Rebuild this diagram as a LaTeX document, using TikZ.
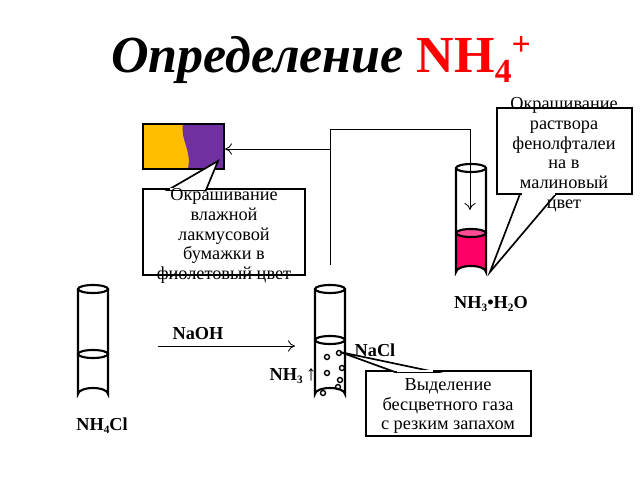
\documentclass[tikz,border=0pt]{standalone}
\usepackage{fontspec}
\setmainfont{Liberation Serif}
\usetikzlibrary{positioning,arrows.meta}
\definecolor{litY}{RGB}{255,190,0}
\definecolor{litV}{RGB}{112,48,160}
\definecolor{crimson}{RGB}{255,0,102}
\newcommand{\tube}[4]{% x, top y, liquid y, bottom y
  \draw[tube line] (#1,#2) -- (#1,#4-6) arc[start angle=180,end angle=360,x radius=15,y radius=6] -- (#1+30,#2);
  \draw[tube line] (#1+15,#2) ellipse[x radius=15,y radius=4];
  \draw[tube line] (#1+15,#3) ellipse[x radius=15,y radius=4];}
\newcommand{\sub}[1]{\raisebox{-0.35ex}{\fontsize{8}{8}\selectfont #1}}
\begin{document}
\begin{tikzpicture}[x=0.025cm,y=-0.025cm,thick,
    tube line/.style={line width=1.5pt},
    box/.style={draw,fill=white,line width=1.2pt},
    note/.style={align=center,font=\fontsize{13}{14}\selectfont,anchor=north,inner sep=0pt},
    label/.style={font=\bfseries\fontsize{13}{14}\selectfont},
    >={To[length=5pt,width=8pt]}]
  \useasboundingbox (0,0) rectangle (640,480);
  \node (title) at (321,60) {\fontsize{37}{40}\selectfont\bfseries\itshape Определение \textcolor{red}{\upshape NH\raisebox{-0.4ex}{\fontsize{24}{24}\selectfont 4}\raisebox{0.7ex}{\fontsize{24}{24}\selectfont +}}};

  % litmus strip
  \fill[litY] (143,124) rectangle (224,169);
  \fill[litV] (183,124) .. controls (180,140) and (192,150) .. (188,169) -- (224,169) -- (224,124) -- cycle;
  \draw[line width=1.2pt] (143,124) rectangle (224,169);

  % phenolphthalein tube
  \fill[crimson] (456,233) -- (456,272) arc[start angle=180,end angle=360,x radius=15,y radius=6] -- (486,233) -- cycle;
  \fill[crimson!70] (471,233) ellipse[x radius=15,y radius=4];
  \tube{456}{168}{233}{278}
  \node[label] (nh3h2o) at (491,304) {NH\sub{3}•H\sub{2}O};

  % left and middle tubes
  \tube{78}{289}{354}{400}
  \node[label] (nh4cl) at (102,426) {NH\sub{4}Cl};
  \tube{315}{289}{340}{400}
  \foreach \px/\py in {327/357,339/353,327/373,342/368,338/387,323/393,340/380}
    \draw[line width=1pt] (\px,\py) circle[radius=2.5];
  \node[label] (naoh) at (198,334) {NaOH};
  \node[label] (nacl) at (375,350) {NaCl};
  \node[label] (nh3) at (293,376) {NH\sub{3}\,{\fontsize{15}{15}\selectfont\textuparrow}};

  % connectors
  \coordinate (naohS) at (158,346);
  \coordinate (naohE) at (295,346);
  \draw[->,semithick] (naohS) -- (naohE);
  \coordinate (up0) at (330,265);
  \coordinate (up1) at (330,129);
  \coordinate (rt1) at (470,129);
  \coordinate (rt2) at (470,210);
  \coordinate (lf1) at (330,149);
  \coordinate (lf2) at (225,149);
  \draw[->,semithick] (up0) -- (up1) -- (rt1) -- (rt2);
  \draw[->,semithick] (lf1) -- (lf2);

  % callouts
  \draw[box] (143,189) rectangle (305,275);
  \draw[line width=1.2pt,fill=white] (168,190) -- (218,161) -- (206,190) -- cycle;
  \draw[white,line width=2pt] (170,189) -- (205,189);
  \node[note] (litmus) at (224,188)
    {Окрашивание\\ влажной\\ лакмусовой\\ бумажки в\\ фиолетовый цвет};

  \draw[box] (497,108) rectangle (632,194);
  \draw[line width=1.2pt,fill=white] (520,194) -- (490,272) -- (556,194) -- cycle;
  \draw[white,line width=2pt] (522,194) -- (555,194);
  \node[note] (phenol) at (564,97)
    {Окрашивание\\ раствора\\ фенолфталеи\\ на в\\ малиновый\\ цвет};

  \draw[box] (366,371) rectangle (531,436);
  \draw[line width=1.2pt,fill=white] (395,372) -- (340,352) -- (435,372) -- cycle;
  \draw[white,line width=2pt] (397,371) -- (433,371);
  \node[note] (gas) at (448,378)
    {Выделение\\ бесцветного газа\\ с резким запахом};
\end{tikzpicture}
\end{document}
